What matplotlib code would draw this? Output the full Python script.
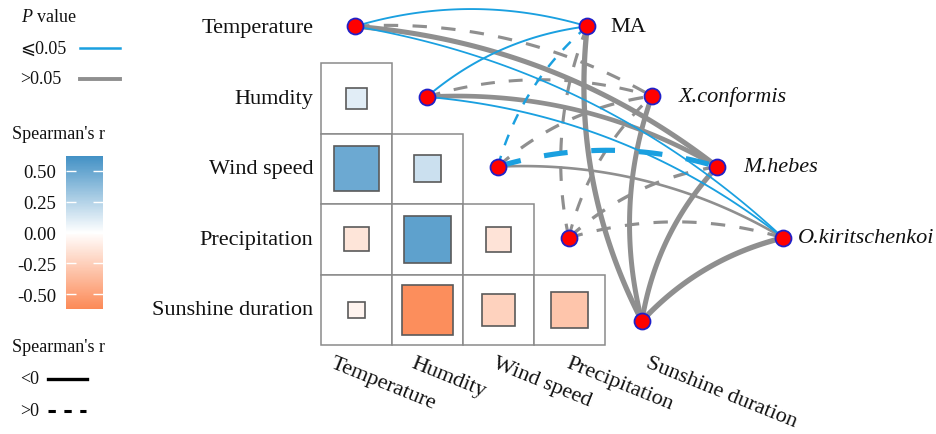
import numpy as np
import matplotlib
matplotlib.use('Agg')
import matplotlib.pyplot as plt
from matplotlib.colors import LinearSegmentedColormap, Normalize
from matplotlib.cm import ScalarMappable
from matplotlib.patches import Rectangle

plt.rcParams['font.family'] = ['Liberation Serif', 'DejaVu Serif', 'DejaVu Sans']
plt.rcParams['mathtext.fontset'] = 'custom'
plt.rcParams['mathtext.it'] = 'Liberation Serif:italic'
plt.rcParams['mathtext.rm'] = 'Liberation Serif'
plt.rcParams['axes.unicode_minus'] = False

# Environmental factors
env_names = ['Temperature', 'Humdity', 'Wind speed', 'Precipitation', 'Sunshine duration']
# Lower triangle of Spearman's r between factors (row i, columns 0..i-1)
env_r = [
    [],
    [0.10],
    [0.48, 0.17],
    [-0.14, 0.53, -0.15],
    [-0.06, -0.60, -0.24, -0.31],
]

# Species and their Spearman's r / P value with every factor (row = factor)
species = ['MA', 'X.conformis', 'M.hebes', 'O.kiritschenkoi']
link_r = [
    [-0.12, 0.25, -0.45, -0.11],
    [-0.13, 0.24, -0.41, -0.12],
    [0.18, 0.26, 0.46, -0.20],
    [0.25, 0.24, 0.27, 0.25],
    [-0.47, -0.44, -0.45, -0.48],
]
link_p = [
    [0.03, 0.21, 0.12, 0.04],
    [0.02, 0.35, 0.18, 0.01],
    [0.04, 0.27, 0.02, 0.31],
    [0.40, 0.33, 0.29, 0.45],
    [0.09, 0.11, 0.08, 0.07],
]
cbar_ticks = [0.50, 0.25, 0.00, -0.25, -0.50]

BLUE = '#1aa0e0'
GRAY = '#8f8f8f'
TXT = '#111111'

W, H = 936, 435
# one data unit = one heatmap cell (71 x 70.5 px), grid origin in pixels
X0, Y0, CW, CH = 321, -6.5, 71, 70.5


def px(x, y):
    '''pixel position -> data coordinates of the main axes'''
    return (x - X0) / CW, (y - Y0) / CH


def curve(p0, p1, rad=0.15, n=80):
    '''quadratic bezier bending to the left of the p0 -> p1 direction'''
    (x0, y0), (x1, y1) = p0, p1
    dx, dy = x1 - x0, y1 - y0
    cx, cy = (x0 + x1) / 2 + rad * dy, (y0 + y1) / 2 - rad * dx
    t = np.linspace(0, 1, n)
    xs = (1 - t) ** 2 * x0 + 2 * (1 - t) * t * cx + t ** 2 * x1
    ys = (1 - t) ** 2 * y0 + 2 * (1 - t) * t * cy + t ** 2 * y1
    return xs, ys


cmap = LinearSegmentedColormap.from_list('spear', ['#fc8a57', '#ffffff', '#4391c5'])
norm = Normalize(-0.62, 0.62)

fig = plt.figure(figsize=(W / 100, H / 100), dpi=100)
ax = fig.add_axes([0, 0, 1, 1])
ax.set_xlim(px(0, 0)[0], px(W, 0)[0])
ax.set_ylim(px(0, H)[1], px(0, 0)[1])
ax.axis('off')

# triangle heatmap, square area ~ |r|
for i, row in enumerate(env_r):
    for j, r in enumerate(row):
        ax.add_patch(Rectangle((j, i), 1, 1, fc='white', ec='#8a8a8a', lw=1.1, zorder=1))
        s = 0.92 * np.sqrt(abs(r))
        ax.add_patch(Rectangle((j + 0.5 - s / 2, i + 0.5 - s / 2), s, s,
                               fc=cmap(norm(r)), ec='#5a5a5a', lw=1.2, zorder=2))

for i, name in enumerate(env_names):
    ax.text(-0.11, i + 0.5, name, ha='right', va='center', fontsize=16, color=TXT)

xlab_px = [335, 415, 497, 570, 650]
for name, xp in zip(env_names, xlab_px):
    x, y = px(xp, 354)
    ax.text(x, y, name, ha='left', va='top', rotation=-22, rotation_mode='anchor',
            fontsize=16, color=TXT)

# node positions
env_xy = [(0.48, 0.48), (1.49, 1.48), (2.49, 2.47), (3.49, 3.48), (4.52, 4.66)]
sp_xy = [(3.75, 0.48), (4.66, 1.47), (5.58, 2.47), (6.51, 3.48)]
name_dx = [0.33, 0.38, 0.37, 0.2]

# links: gray (p > 0.05) below, blue on top; width follows |r|
for i, e in enumerate(env_xy):
    for k, s in enumerate(sp_xy):
        r, p = link_r[i][k], link_p[i][k]
        xs, ys = curve(e, s)
        ls = (0, (4.6, 4.6)) if r > 0 else '-'
        lw = 0.5 + 7 * abs(r)
        if p <= 0.05:
            ax.plot(xs, ys, color=BLUE, lw=lw, ls=ls, zorder=4, solid_capstyle='butt')
        else:
            ax.plot(xs, ys, color=GRAY, lw=lw, ls=ls, zorder=3, solid_capstyle='butt')

for x, y in env_xy + sp_xy:
    ax.plot(x, y, 'o', ms=11.5, mfc='#ff0000', mec='#2020c8', mew=1.3, zorder=6)

for (x, y), name, d in zip(sp_xy, species, name_dx):
    ax.text(x + d, y, name, ha='left', va='center', fontsize=16, color=TXT,
            style='normal' if name == 'MA' else 'italic')

# legend: P value
ax.text(*px(21, 18), '$P$ value', ha='left', va='center', fontsize=13, color=TXT)
ax.text(*px(20, 49), '⩽0.05', ha='left', va='center', fontsize=13, color=TXT)
ax.text(*px(20, 80), '>0.05', ha='left', va='center', fontsize=13, color=TXT)
lx, ly = zip(px(80, 49), px(120, 49))
ax.plot(lx, ly, color=BLUE, lw=1.8)
lx, ly = zip(px(80, 80), px(120, 80))
ax.plot(lx, ly, color=GRAY, lw=2.8)

# legend: line type
ax.text(*px(12, 348), "Spearman's r", ha='left', va='center', fontsize=13, color=TXT)
ax.text(*px(20, 380), '<0', ha='left', va='center', fontsize=13, color=TXT)
ax.text(*px(20, 412), '>0', ha='left', va='center', fontsize=13, color=TXT)
lx, ly = zip(px(48, 380), px(87, 380))
ax.plot(lx, ly, color='black', lw=2.4)
lx, ly = zip(px(48, 412), px(86, 412))
ax.plot(lx, ly, color='black', lw=2.2, ls=(0, (2.4, 2.8)))

# colour bar
ax.text(*px(12, 135), "Spearman's r", ha='left', va='center', fontsize=13, color=TXT)
cax = fig.add_axes([66 / W, 1 - 310 / H, 37 / W, 153 / H])
cb = fig.colorbar(ScalarMappable(norm=norm, cmap=cmap), cax=cax)
cb.outline.set_visible(False)
cb.set_ticks(cbar_ticks)
cb.set_ticklabels([f'{t:.2f}' for t in cbar_ticks])
cax.tick_params(direction='in', length=7, width=1, color='white', left=True, right=True,
                labelleft=True, labelright=False, labelsize=13.5, pad=7, labelcolor=TXT)

fig.savefig('out.png', dpi=100)
